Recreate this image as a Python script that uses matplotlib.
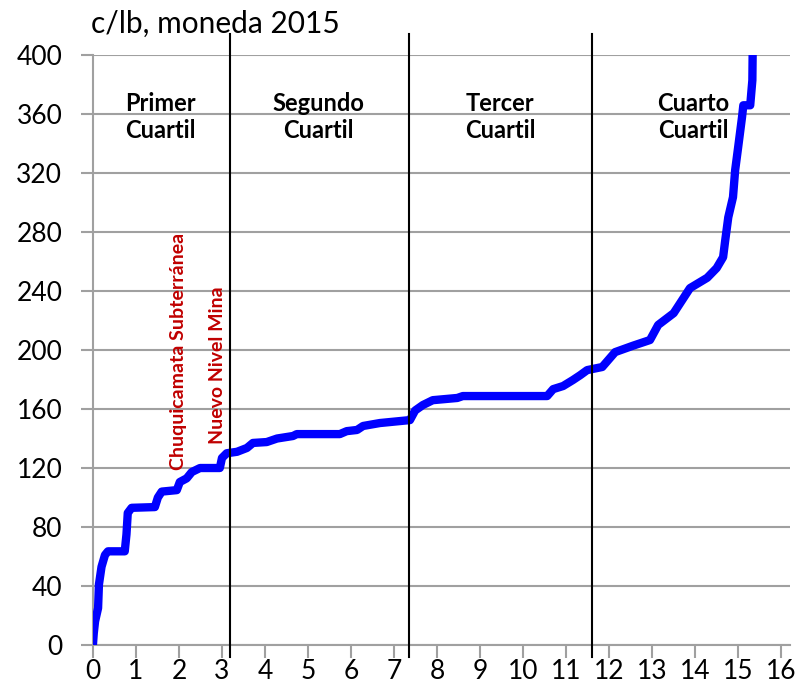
import matplotlib.pyplot as plt

plt.rcParams['font.family'] = ['Lato', 'DejaVu Sans']

# cumulative production (x) vs cash cost c/lb (y)
prod = [0.0, 0.02, 0.05, 0.12, 0.14, 0.2, 0.28, 0.35, 0.74, 0.78, 0.81, 0.9, 1.44, 1.51,
        1.6, 1.95, 2.02, 2.18, 2.3, 2.49, 2.95, 3.0, 3.11, 3.35, 3.58, 3.72, 4.04, 4.28,
        4.65, 4.74, 5.74, 5.9, 6.14, 6.28, 6.67, 7.37, 7.49, 7.67, 7.9, 8.47, 8.6, 10.56,
        10.7, 10.93, 11.16, 11.33, 11.49, 11.84, 12.14, 12.56, 12.95, 13.14, 13.5, 13.88,
        14.28, 14.5, 14.65, 14.7, 14.77, 14.88, 14.93, 15.0, 15.09, 15.12, 15.28, 15.33,
        15.34]
cost = [0, 8, 16, 25, 41, 53, 61, 63.5, 63.5, 75, 89.5, 93, 93.5, 100,
        104, 105, 110.5, 113, 117.3, 120, 120, 126.8, 130, 131, 133.6, 137, 137.6, 140,
        141.7, 143, 143, 145, 145.8, 148.5, 150.5, 152.5, 159, 162.7, 166, 167.5, 168.8, 168.8,
        173.5, 175.6, 179.7, 183, 186.4, 188.5, 198.6, 203, 206.8, 217, 225, 242,
        249, 255.6, 263, 274.6, 290, 303.7, 322, 337.6, 358, 366, 366, 383,
        410]

quartile_lines = [3.19, 7.35, 11.6]
quartile_labels = ['Primer\nCuartil', 'Segundo\nCuartil', 'Tercer\nCuartil', 'Cuarto\nCuartil']
quartile_label_x = [1.56, 5.23, 9.47, 13.95]

mines = ['Chuquicamata Subterránea', 'Nuevo Nivel Mina']
mine_x = [1.98, 2.9]
mine_y = [199, 190]

fig = plt.figure(figsize=(8.01, 6.98), dpi=100)
ax = fig.add_axes([0.116, 0.076, 0.870, 0.845])

ax.plot(prod, cost, color='#0000FF', lw=6, solid_joinstyle='round', zorder=3)

for x in quartile_lines:
    ax.plot([x, x], [-8, 414], color='black', lw=1.5, clip_on=False, zorder=4)

for lab, x in zip(quartile_labels, quartile_label_x):
    ax.text(x, 358, lab, ha='center', va='center', fontsize=17, fontweight='bold',
            color='black', linespacing=1.2)

for lab, x, y in zip(mines, mine_x, mine_y):
    ax.text(x, y, lab, rotation=90, ha='center', va='center', fontsize=14,
            fontweight='bold', color='#C00000')

ax.set_xlim(0, 16.2)
ax.set_ylim(0, 400)
ax.set_xticks(range(0, 17))
ax.set_yticks(range(0, 401, 40))
ax.yaxis.grid(True, color='#A0A0A0', lw=1.5)
ax.set_axisbelow(True)

for s in ['top', 'right']:
    ax.spines[s].set_visible(False)
for s in ['left', 'bottom']:
    ax.spines[s].set_color('#A0A0A0')
    ax.spines[s].set_linewidth(1.5)

ax.tick_params(axis='x', direction='out', length=9, width=1.5, color='#A0A0A0',
               labelsize=19, pad=1)
ax.tick_params(axis='y', direction='out', length=9, width=1.5, color='#A0A0A0',
               labelsize=19, pad=13)

fig.text(0.113, 0.966, 'c/lb, moneda 2015', ha='left', va='center', fontsize=21.5)

fig.savefig('out.png', dpi=100, facecolor='white')
